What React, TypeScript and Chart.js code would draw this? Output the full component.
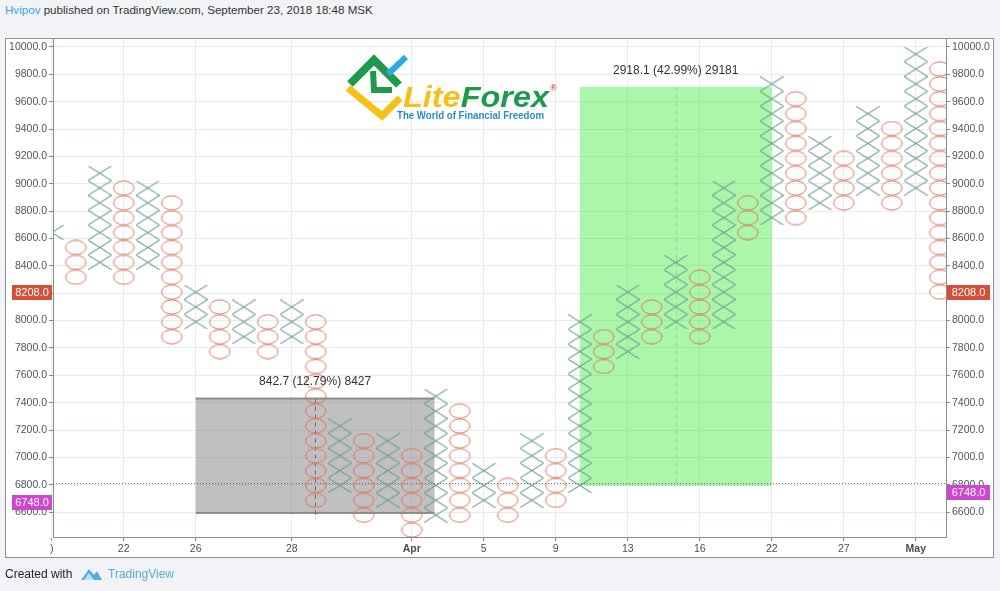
import React, { useEffect, useRef } from "react";
import { Chart, registerables } from "chart.js";

Chart.register(...registerables);

// ---- Point & Figure data (box index relative to reference price) ----
const BOX_BASE = 8208;
const BOX_SIZE = 108.7;
const columnTypes = [
  "X", "O", "X", "O", "X", "O", "X", "O", "X", "O",
  "X", "O", "X", "O", "X", "O", "X", "O", "X", "O",
  "X", "O", "X", "O", "X", "O", "X", "O", "X", "O",
  "X", "O", "X", "O", "X", "O", "X", "O",
];
const columnLowBox = [
  2, 1, 2, 1, 2, -3, -2, -4, -3, -4,
  -3, -14, -13, -15, -14, -16, -15, -15, -14, -15,
  -14, -14, -13, -5, -4, -3, -2, -3, -2, 4,
  5, 5, 6, 6, 7, 6, 7, 0,
];
const columnHighBox = [
  4, 3, 8, 7, 7, 6, 0, -1, -1, -2,
  -1, -2, -9, -10, -10, -11, -7, -8, -12, -13,
  -10, -11, -2, -3, 0, -1, 2, 1, 7, 6,
  14, 13, 10, 9, 12, 11, 16, 15,
];

// ---- axes ----
const yTickValues = [6600, 6800, 7000, 7200, 7400, 7600, 7800, 8000, 8200, 8400, 8600, 8800, 9000, 9200, 9400, 9600, 9800, 10000];
const xTickColumns = [0, 3, 6, 10, 15, 18, 21, 24, 27, 30, 33, 36];
const xTickLabels = [")", "22", "26", "28", "Apr", "5", "9", "13", "16", "22", "27", "May"];
const xBoldLabels = ["Apr", "May"];

// ---- measurement ranges ----
const rangeStartCol = [6, 22];
const rangeEndCol = [15.95, 30];
const rangeLow = [6594, 6791];
const rangeHigh = [7430, 9708];
const rangeLabels = ["842.7 (12.79%) 8427", "2918.1 (42.99%) 29181"];

// ---- price marks ----
const dottedLineValue = 6813;
const priceTagValues = [8208, 6748];
const priceTagTexts = ["8208.0", "6748.0"];

const FONT = "'Liberation Sans', Arial, sans-serif";

function makeXImage(): HTMLCanvasElement {
  const c = document.createElement("canvas");
  c.width = 24;
  c.height = 15;
  const g = c.getContext("2d")!;
  g.strokeStyle = "#6c9d8b";
  g.lineWidth = 1.05;
  g.beginPath();
  g.moveTo(0.5, 0.3);
  g.lineTo(23.5, 14.7);
  g.moveTo(23.5, 0.3);
  g.lineTo(0.5, 14.7);
  g.stroke();
  return c;
}

function makeOImage(): HTMLCanvasElement {
  const c = document.createElement("canvas");
  c.width = 24;
  c.height = 16;
  const g = c.getContext("2d")!;
  g.strokeStyle = "#df705c";
  g.lineWidth = 0.95;
  g.beginPath();
  g.ellipse(12, 8, 10.2, 7.1, 0, 0, Math.PI * 2);
  g.stroke();
  return c;
}

export default function App() {
  const ref = useRef<HTMLCanvasElement>(null);

  useEffect(() => {
    const canvas = ref.current!;
    const xImg = makeXImage();
    const oImg = makeOImage();
    const xData: { x: number; y: number }[] = [];
    const oData: { x: number; y: number }[] = [];
    columnTypes.forEach((t, i) => {
      for (let k = columnLowBox[i]; k <= columnHighBox[i]; k++) {
        const pt = { x: i, y: BOX_BASE + k * BOX_SIZE };
        if (t === "X") xData.push(pt);
        else oData.push(pt);
      }
    });

    const overlay = {
      id: "pfOverlay",
      beforeDatasetsDraw(chart: any) {
        const { ctx, chartArea: a, scales } = chart;
        const xs = scales.x;
        const ys = scales.y;
        ctx.save();
        ctx.beginPath();
        ctx.rect(a.left, a.top, a.right - a.left, a.bottom - a.top);
        ctx.clip();
        rangeStartCol.forEach((s, i) => {
          const x1 = xs.getPixelForValue(s);
          const x2 = xs.getPixelForValue(rangeEndCol[i]);
          const yTop = ys.getPixelForValue(rangeHigh[i]);
          const yBot = ys.getPixelForValue(rangeLow[i]);
          const xm = (x1 + x2) / 2;
          if (i === 0) {
            ctx.fillStyle = "rgba(105,105,105,0.42)";
            ctx.fillRect(x1, yTop, x2 - x1, yBot - yTop);
            ctx.fillStyle = "#8a8a8a";
            ctx.fillRect(x1, yTop - 1, x2 - x1, 2);
            ctx.fillRect(x1, yBot - 1, x2 - x1, 2);
            ctx.strokeStyle = "#6a6a6a";
            ctx.lineWidth = 1;
            ctx.setLineDash([4, 4]);
            ctx.beginPath();
            ctx.moveTo(Math.round(xm) + 0.5, yTop);
            ctx.lineTo(Math.round(xm) + 0.5, yBot + 6);
            ctx.stroke();
            ctx.setLineDash([]);
          } else {
            ctx.fillStyle = "rgba(0,228,0,0.33)";
            ctx.fillRect(x1, yTop, x2 - x1, yBot - yTop);
            ctx.strokeStyle = "rgba(110,140,110,0.35)";
            ctx.lineWidth = 1;
            ctx.setLineDash([4, 4]);
            ctx.beginPath();
            ctx.moveTo(Math.round(xm) + 0.5, yTop);
            ctx.lineTo(Math.round(xm) + 0.5, yBot);
            ctx.stroke();
            ctx.setLineDash([]);
          }
        });
        // dotted horizontal line
        const yd = Math.round(ys.getPixelForValue(dottedLineValue)) + 0.5;
        ctx.strokeStyle = "#6f6f6f";
        ctx.lineWidth = 1;
        ctx.setLineDash([1, 2]);
        ctx.beginPath();
        ctx.moveTo(a.left, yd);
        ctx.lineTo(a.right, yd);
        ctx.stroke();
        ctx.setLineDash([]);
        ctx.restore();
      },
      afterDatasetsDraw(chart: any) {
        const { ctx, scales } = chart;
        ctx.save();
        ctx.font = `12px ${FONT}`;
        ctx.fillStyle = "#333";
        ctx.textAlign = "center";
        ctx.textBaseline = "middle";
        rangeLabels.forEach((t, i) => {
          const xm = (scales.x.getPixelForValue(rangeStartCol[i]) + scales.x.getPixelForValue(rangeEndCol[i])) / 2;
          const yTop = scales.y.getPixelForValue(rangeHigh[i]);
          ctx.fillText(t, xm, yTop - 16.5);
        });
        ctx.restore();
      },
      afterDraw(chart: any) {
        const { ctx, scales } = chart;
        const colors = ["#d64e38", "#cf46cf"];
        const leftShift = [0, 10];
        ctx.save();
        ctx.font = `11px ${FONT}`;
        ctx.textAlign = "center";
        ctx.textBaseline = "middle";
        priceTagValues.forEach((v, i) => {
          const y = scales.y.getPixelForValue(v);
          const yl = y + leftShift[i];
          ctx.fillStyle = colors[i];
          ctx.fillRect(12, Math.round(yl - 7), 40, 15);
          ctx.fillRect(947, Math.round(y - 7), 43, 15);
          ctx.fillStyle = "#ffffff";
          ctx.fillText(priceTagTexts[i], 32, Math.round(yl) + 1);
          ctx.fillText(priceTagTexts[i], 968.5, Math.round(y) + 1);
        });
        ctx.restore();
      },
    };

    const gridColor = "#e6edf1";
    const chart = new Chart(canvas, {
      type: "scatter",
      data: {
        datasets: [
          { data: xData, pointStyle: xImg as any, pointRadius: 12, clip: 0 as any, showLine: false },
          { data: oData, pointStyle: oImg as any, pointRadius: 12, clip: 0 as any, showLine: false },
        ],
      },
      options: {
        animation: false,
        responsive: false,
        maintainAspectRatio: false,
        events: [],
        layout: { padding: { top: 39, left: 0, right: 0, bottom: 0 } },
        plugins: { legend: { display: false }, tooltip: { enabled: false } },
        scales: {
          x: {
            type: "linear",
            min: 0.054,
            max: 37.26,
            afterFit: (s: any) => {
              s.height = 54;
            },
            afterBuildTicks: (s: any) => {
              s.ticks = xTickColumns.map((v) => ({ value: v }));
            },
            ticks: {
              autoSkip: false,
              maxRotation: 0,
              padding: 2,
              color: "#4d4d4d",
              font: (c: any) => ({
                family: FONT,
                size: 10.5,
                weight: xBoldLabels.includes(xTickLabels[c.index]) ? "bold" : "normal",
              }),
              callback: (_v: any, i: number) => xTickLabels[i],
            },
            grid: { color: gridColor, tickColor: "#8a8a8a", tickLength: 4 },
            border: { color: "#8a8a8a", width: 1 },
          },
          y: {
            type: "linear",
            position: "left",
            min: 6418,
            max: 10058,
            afterFit: (s: any) => {
              s.width = 53;
            },
            afterBuildTicks: (s: any) => {
              s.ticks = yTickValues.map((v) => ({ value: v }));
            },
            ticks: {
              padding: 2,
              color: "#555",
              font: { family: FONT, size: 10.5 },
              callback: (v: any) => Number(v).toFixed(1),
            },
            grid: { color: gridColor, tickColor: "#8a8a8a", tickLength: 4 },
            border: { color: "#8a8a8a", width: 1 },
          },
          y2: {
            type: "linear",
            position: "right",
            min: 6418,
            max: 10058,
            afterFit: (s: any) => {
              s.width = 54;
            },
            afterBuildTicks: (s: any) => {
              s.ticks = yTickValues.map((v) => ({ value: v }));
            },
            ticks: {
              padding: 2,
              color: "#555",
              font: { family: FONT, size: 10.5 },
              callback: (v: any) => Number(v).toFixed(1),
            },
            grid: { drawOnChartArea: false, tickColor: "#8a8a8a", tickLength: 4 },
            border: { color: "#8a8a8a", width: 1 },
          },
        },
      } as any,
      plugins: [overlay],
    });
    return () => chart.destroy();
  }, []);

  return (
    <div
      style={{
        position: "fixed",
        left: 0,
        top: 0,
        width: 1000,
        height: 591,
        overflow: "hidden",
        background: "#f1f3f6",
        fontFamily: FONT,
      }}
    >
      <div style={{ position: "absolute", left: 5, top: 3, fontSize: 11.6, color: "#333", whiteSpace: "nowrap" }}>
        <span style={{ color: "#3aa6dc" }}>Hvipov</span> published on TradingView.com, September 23, 2018 18:48 MSK
      </div>
      <div
        style={{
          position: "absolute",
          left: 5,
          top: 38,
          width: 989,
          height: 520,
          boxSizing: "border-box",
          background: "#ffffff",
          border: "1px solid #909090",
        }}
      />
      <canvas
        ref={ref}
        width={1000}
        height={591}
        style={{ position: "absolute", left: 0, top: 0, width: 1000, height: 591 }}
      />
      <svg width={1000} height={591} style={{ position: "absolute", left: 0, top: 0, pointerEvents: "none" }}>
        <g fill="none" strokeLinejoin="miter">
          <polyline points="348,88 382,116 400,98" stroke="#f5c116" strokeWidth={7} />
          <polyline points="350,84 374,60 399,85" stroke="#1f9a4a" strokeWidth={8} />
          <polyline points="373,71 374,90 392,90" stroke="#1f9a4a" strokeWidth={6} />
          <line x1={388} y1={74} x2={406} y2={57} stroke="#2aa9e2" strokeWidth={6} />
        </g>
        <text
          x={403}
          y={107}
          fontFamily={FONT}
          fontSize={30}
          fontWeight="bold"
          fontStyle="italic"
          textLength={146}
          lengthAdjust="spacingAndGlyphs"
        >
          <tspan fill="#f5c116">Lite</tspan>
          <tspan fill="#1f9a4a">Forex</tspan>
        </text>
        <text x={550} y={91} fontFamily={FONT} fontSize={9} fill="#e0332e">
          ®
        </text>
        <text
          x={397}
          y={119}
          fontFamily={FONT}
          fontSize={10}
          fontWeight="bold"
          fill="#2a8ccc"
          textLength={147}
          lengthAdjust="spacingAndGlyphs"
        >
          The World of Financial Freedom
        </text>
        {/* footer TradingView icon */}
        <path d="M81,580 L89,569 L94,575 L97,571 L102,580 Z" fill="#55aee0" />
        <path d="M84,580 L89,573 L94,580 Z" fill="#bfe2f5" />
      </svg>
      <div style={{ position: "absolute", left: 5, top: 567, fontSize: 12, color: "#222", whiteSpace: "nowrap" }}>
        Created with
      </div>
      <div style={{ position: "absolute", left: 108, top: 567, fontSize: 12, color: "#5aa9d9", whiteSpace: "nowrap" }}>
        TradingView
      </div>
    </div>
  );
}
